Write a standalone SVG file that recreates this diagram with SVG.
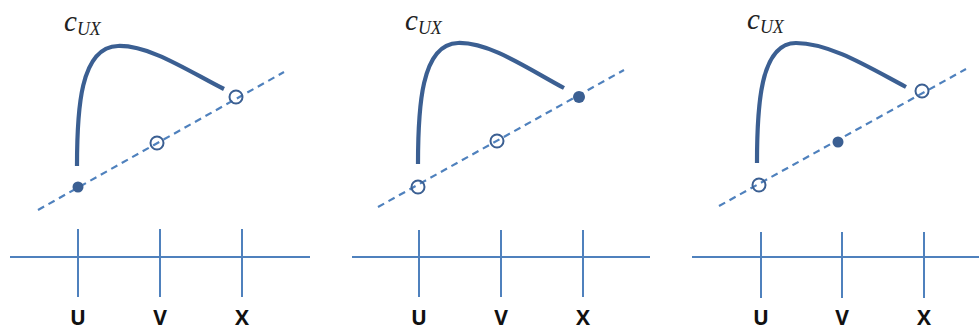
<svg xmlns="http://www.w3.org/2000/svg" width="979" height="331" viewBox="0 0 979 331">
<style>
.curve{fill:none;stroke:#3b5f92;stroke-width:4.2;stroke-linecap:butt}
.dash{fill:none;stroke:#4f81bd;stroke-width:2.2;stroke-dasharray:7 5}
.axis{fill:none;stroke:#4f81bd;stroke-width:2}
.open{fill:none;stroke:#3b5f92;stroke-width:2}
.fill{fill:#3b5f92}
.lab{font-family:"Liberation Serif",serif;font-style:italic;fill:#222}
.c{font-size:29px}
.sub{font-size:18px}
.tick{font-family:"Open Sans","Liberation Sans",sans-serif;font-weight:bold;font-size:21px;fill:#111;text-anchor:middle}
</style>
<g id="panel1">
  <text class="lab" x="64" y="31"><tspan class="c">c</tspan><tspan class="sub" dy="4">UX</tspan></text>
  <path class="curve" d="M77,166 C77,110 80,47 118,46 C150,45 190,72 224,89"/>
  <line class="dash" x1="38" y1="210" x2="284" y2="72"/>
  <circle class="fill" cx="78" cy="187" r="5.5"/>
  <circle class="open" cx="157" cy="143" r="6.5"/>
  <circle class="open" cx="236" cy="97" r="6.5"/>
  <line class="axis" x1="10" y1="257" x2="310" y2="257"/>
  <line class="axis" x1="78" y1="229" x2="78" y2="297"/>
  <line class="axis" x1="160" y1="229" x2="160" y2="297"/>
  <line class="axis" x1="242" y1="229" x2="242" y2="297"/>
  <text class="tick" x="78" y="325">U</text>
  <text class="tick" x="160" y="325">V</text>
  <text class="tick" x="242" y="325">X</text>
</g>
<g id="panel2">
  <text class="lab" x="405" y="30"><tspan class="c">c</tspan><tspan class="sub" dy="4">UX</tspan></text>
  <path class="curve" d="M418,164 C418,108 421,44 458,43 C490,42 530,70 564,88"/>
  <line class="dash" x1="378" y1="207" x2="624" y2="70"/>
  <circle class="open" cx="418" cy="187" r="6.5"/>
  <circle class="open" cx="497" cy="141" r="6.5"/>
  <circle class="fill" cx="579" cy="97" r="6"/>
  <line class="axis" x1="352" y1="257" x2="650" y2="257"/>
  <line class="axis" x1="419" y1="230" x2="419" y2="297"/>
  <line class="axis" x1="501" y1="230" x2="501" y2="297"/>
  <line class="axis" x1="583" y1="230" x2="583" y2="297"/>
  <text class="tick" x="419" y="325">U</text>
  <text class="tick" x="501" y="325">V</text>
  <text class="tick" x="583" y="325">X</text>
</g>
<g id="panel3">
  <text class="lab" x="747" y="29"><tspan class="c">c</tspan><tspan class="sub" dy="4">UX</tspan></text>
  <path class="curve" d="M757,163 C757,107 760,43 796,43 C830,43 870,68 906,87"/>
  <line class="dash" x1="719" y1="206" x2="966" y2="69"/>
  <circle class="open" cx="759" cy="185" r="6.5"/>
  <circle class="fill" cx="838" cy="142" r="5.5"/>
  <circle class="open" cx="922" cy="91" r="6.5"/>
  <line class="axis" x1="692" y1="257" x2="979" y2="257"/>
  <line class="axis" x1="761" y1="232" x2="761" y2="298"/>
  <line class="axis" x1="842" y1="232" x2="842" y2="298"/>
  <line class="axis" x1="924" y1="232" x2="924" y2="298"/>
  <text class="tick" x="761" y="325">U</text>
  <text class="tick" x="842" y="325">V</text>
  <text class="tick" x="924" y="325">X</text>
</g>
</svg>
